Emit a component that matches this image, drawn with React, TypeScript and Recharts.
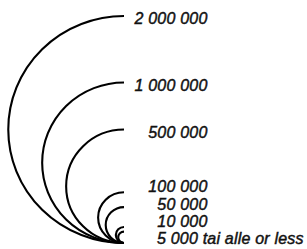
import React from 'react';
import { ScatterChart, Scatter, XAxis, YAxis, ZAxis } from 'recharts';

const values = [2000000, 1000000, 500000, 100000, 50000, 10000, 5000];
const labels = ['2 000 000', '1 000 000', '500 000', '100 000', '50 000', '10 000', '5 000 tai alle or less'];

const data = values.map((v, i) => ({ x: 0, y: 0, z: v, label: labels[i], order: i }));

const FONT = "'Liberation Sans', Arial, Helvetica, sans-serif";

const Ring = (props: any) => {
  const { cx, cy, width, size, payload } = props;
  const r = width ? width / 2 : Math.sqrt(Math.max(size || 0, 0) / Math.PI);
  const rx = r * 1.02;
  const topY = cy - 2 * r;
  const n = values.length;
  const isLarge = payload.z >= 500000;
  const isLast = payload.order === n - 1;
  const center = isLarge ? topY + 2.5 : cy - 4.5 - (n - 1 - payload.order) * 17.3;
  const textProps = {
    fontFamily: FONT,
    fontStyle: 'italic' as const,
    fontSize: 16,
    letterSpacing: 0.2,
    fill: '#111',
    stroke: '#111',
    strokeWidth: 0.45,
  };
  return (
    <g>
      <path
        d={`M ${cx} ${cy} A ${rx} ${r} 0 0 1 ${cx} ${topY}`}
        fill="none"
        stroke="#000"
        strokeWidth={2.1}
      />
      <text
        x={isLast ? cx + 33 : cx + 83.5}
        y={center + 5.6}
        textAnchor={isLast ? 'start' : 'end'}
        {...textProps}
      >
        {payload.label}
      </text>
    </g>
  );
};

export default function App() {
  return (
    <div style={{ position: 'absolute', left: 0, top: 0, width: 307, height: 249, background: '#fff' }}>
      <ScatterChart width={307} height={249} margin={{ top: 5, right: 5, bottom: 6, left: 124 }}>
        <XAxis type="number" dataKey="x" domain={[0, 1]} hide />
        <YAxis type="number" dataKey="y" domain={[0, 1]} hide />
        <ZAxis type="number" dataKey="z" domain={[0, 2000000]} range={[0, Math.PI * 113.5 * 113.5]} />
        <Scatter data={data} shape={<Ring />} isAnimationActive={false} />
      </ScatterChart>
    </div>
  );
}
